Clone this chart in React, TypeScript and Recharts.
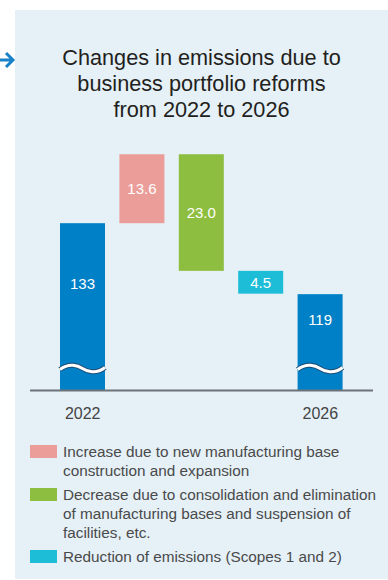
import { BarChart, Bar, XAxis, YAxis, ReferenceLine } from 'recharts';

// waterfall values (Mt-CO2)
const categories = ['2022', 'increase', 'decrease', 'reduction', '2026'];
const tickLabels = ['2022', '', '', '', '2026'];
const startTotal = 133;
const endTotal = 119;
const changes = [13.6, -23.0, -4.5];
const valueLabels = ['133', '13.6', '23.0', '4.5', '119'];
const axisFloor = 100; // axis is broken below this value
const axisTop = 150;

const barColors = ['#0080c6', '#eb9e99', '#8dbe3f', '#1dbdd8', '#0080c6'];

const legendItems = [
  { color: '#eb9e99', text: 'Increase due to new manufacturing base construction and expansion' },
  { color: '#8dbe3f', text: 'Decrease due to consolidation and elimination of manufacturing bases and suspension of facilities, etc.' },
  { color: '#1dbdd8', text: 'Reduction of emissions (Scopes 1 and 2)' },
];

const FONT = '"Liberation Sans", Arial, Helvetica, sans-serif';

// build ranged rows [low, high] for the waterfall
let running = startTotal;
const rows = categories.map((name, i) => {
  if (i === 0) return { name, range: [axisFloor, startTotal], total: true };
  if (i === categories.length - 1) return { name, range: [axisFloor, endTotal], total: true };
  const next = running + changes[i - 1];
  const r = [Math.min(running, next), Math.max(running, next)];
  running = next;
  return { name, range: r, total: false };
});

function WaterfallBar(props: any) {
  const { x, y, width, height, index, payload } = props;
  const fill = barColors[index];
  const label = valueLabels[index];
  if (payload.total) {
    const waveY = y + height - 22;
    const w = width;
    const wave = `M${x},${waveY + 1} C${x + w * 0.2},${waveY - 6} ${x + w * 0.4},${waveY - 3} ${x + w * 0.5},${waveY} S${x + w * 0.8},${waveY + 6} ${x + w},${waveY - 1}`;
    const labelY = (y + waveY) / 2 - 12;
    return (
      <g>
        <rect x={x} y={y} width={width} height={height} fill={fill} />
        <path d={wave} stroke="#1d4a73" strokeWidth={5} fill="none" />
        <path d={wave} stroke="#ffffff" strokeWidth={3} fill="none" />
        <text x={x + width / 2} y={labelY} fill="#fff" fontSize={15} fontFamily={FONT} textAnchor="middle" dominantBaseline="central">{label}</text>
      </g>
    );
  }
  return (
    <g>
      <rect x={x} y={y} width={width} height={height} fill={fill} />
      <text x={x + width / 2} y={y + height / 2} fill="#fff" fontSize={15} fontFamily={FONT} textAnchor="middle" dominantBaseline="central">{label}</text>
    </g>
  );
}

export default function App() {
  return (
    <div style={{ position: 'absolute', left: 0, top: 0, width: 388, height: 580, overflow: 'hidden', background: '#fff', fontFamily: FONT }}>
      {/* arrow coming in from the left */}
      <svg width={16} height={30} style={{ position: 'absolute', left: 0, top: 45 }}>
        <path d="M0,15 L13,15 M6,8 L13,15 L6,22" stroke="#1a82c8" strokeWidth={3} fill="none" />
      </svg>
      <div style={{ position: 'absolute', left: 15, top: 10, width: 373, height: 569, background: '#e5f0f7' }}>
        <div style={{ position: 'absolute', left: 0, top: 35, width: 373, textAlign: 'center', fontSize: 21.7, lineHeight: '26px', color: '#231f20' }}>
          Changes in emissions due to<br />business portfolio reforms<br />from 2022 to 2026
        </div>
        <div style={{ position: 'absolute', left: 0, top: 120 }}>
          <BarChart width={373} height={300} data={rows} margin={{ top: 7, right: 15, left: 15, bottom: 9.5 }} barSize={45}>
            <XAxis
              dataKey="name"
              axisLine={false}
              tickLine={false}
              tickMargin={11}
              height={30}
              padding={{ left: 23, right: 23 }}
              tickFormatter={(_v: string, i: number) => tickLabels[i]}
              tick={{ fill: '#444', fontSize: 16, fontFamily: FONT }}
              interval={0}
            />
            <YAxis hide domain={[axisFloor, axisTop]} allowDataOverflow />
            <Bar dataKey="range" shape={WaterfallBar} isAnimationActive={false} />
            <ReferenceLine y={axisFloor} stroke="#6d7378" strokeWidth={2} ifOverflow="extendDomain" />
          </BarChart>
        </div>
        <div style={{ position: 'absolute', left: 15, top: 432, width: 358, fontSize: 15.3, lineHeight: '19px', color: '#4a4a4a' }}>
          {legendItems.map((item) => (
            <div key={item.text} style={{ display: 'flex', marginBottom: 5 }}>
              <div style={{ width: 27, height: 13, background: item.color, marginTop: 3, flexShrink: 0 }} />
              <div style={{ marginLeft: 6 }}>{item.text}</div>
            </div>
          ))}
        </div>
      </div>
    </div>
  );
}
